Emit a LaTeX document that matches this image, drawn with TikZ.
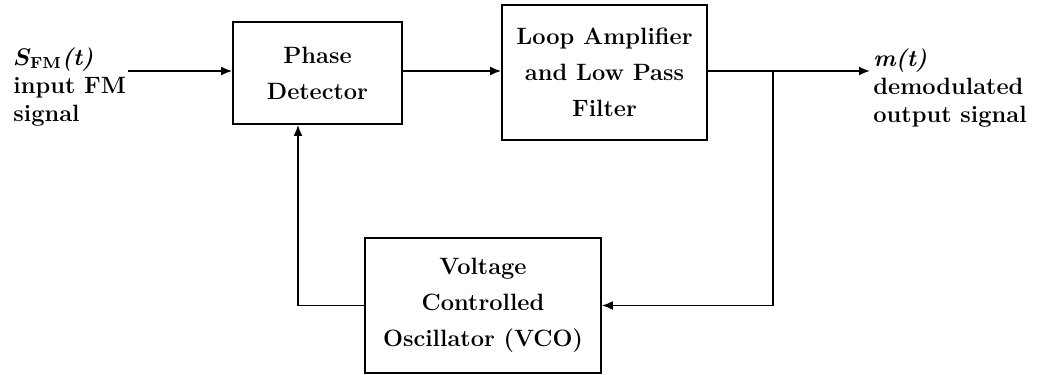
\documentclass[tikz,border=0pt]{standalone}
\usepackage{tikz}
\usetikzlibrary{arrows.meta}

\tikzset{
  block/.style={draw, rectangle, line width=0.9pt, align=center, inner sep=2pt,
    font=\fontsize{11.8}{18}\selectfont\bfseries},
  sig/.style={align=left, inner sep=0pt, font=\fontsize{11.8}{14.2}\selectfont\bfseries\boldmath},
  arr/.style={-{Latex[length=5.5pt,width=4.5pt]}, line width=0.9pt},
  wire/.style={line width=0.9pt}
}

\begin{document}
\begin{tikzpicture}[x=0.5pt, y=-0.5pt]
		\useasboundingbox (0,0) rectangle (1040,375);
		% Blocks
		\node[block, minimum width=84.5pt, minimum height=51pt] (pd) at (317.5,73) {Phase\\Detector};
		\node[block, minimum width=102.5pt, minimum height=67.5pt] (lpf) at (604.5,72.5) {Loop Amplifier\\and Low Pass\\Filter};
		\node[block, minimum width=118pt, minimum height=67.5pt] (vco) at (483,305.5) {Voltage\\Controlled\\Oscillator (VCO)};

		% Signal labels
		\node[sig, anchor=west] (in) at (13,87) {$S_{\mathbf{FM}}$\textit{(t)}\\input FM\\signal};
		\node[sig, anchor=west] (out) at (873,88) {\textit{m(t)}\\demodulated\\output signal};

		\coordinate (src) at (128,71);
		\coordinate (split) at (773,71);
		\coordinate (dst) at (870,71);

		% Forward path
		\draw[arr] (src) -- (src -| pd.west);
		\draw[arr] (pd.east |- src) -- (lpf.west |- src);
		\draw[wire] (lpf.east |- src) -- (split);
		\draw[arr] (split) -- (dst);

		% Feedback path
		\draw[arr] (split) |- (vco.east);
		\draw[arr] (vco.west) -| ([xshift=-9.75pt]pd.south);
	\end{tikzpicture}
\end{document}
